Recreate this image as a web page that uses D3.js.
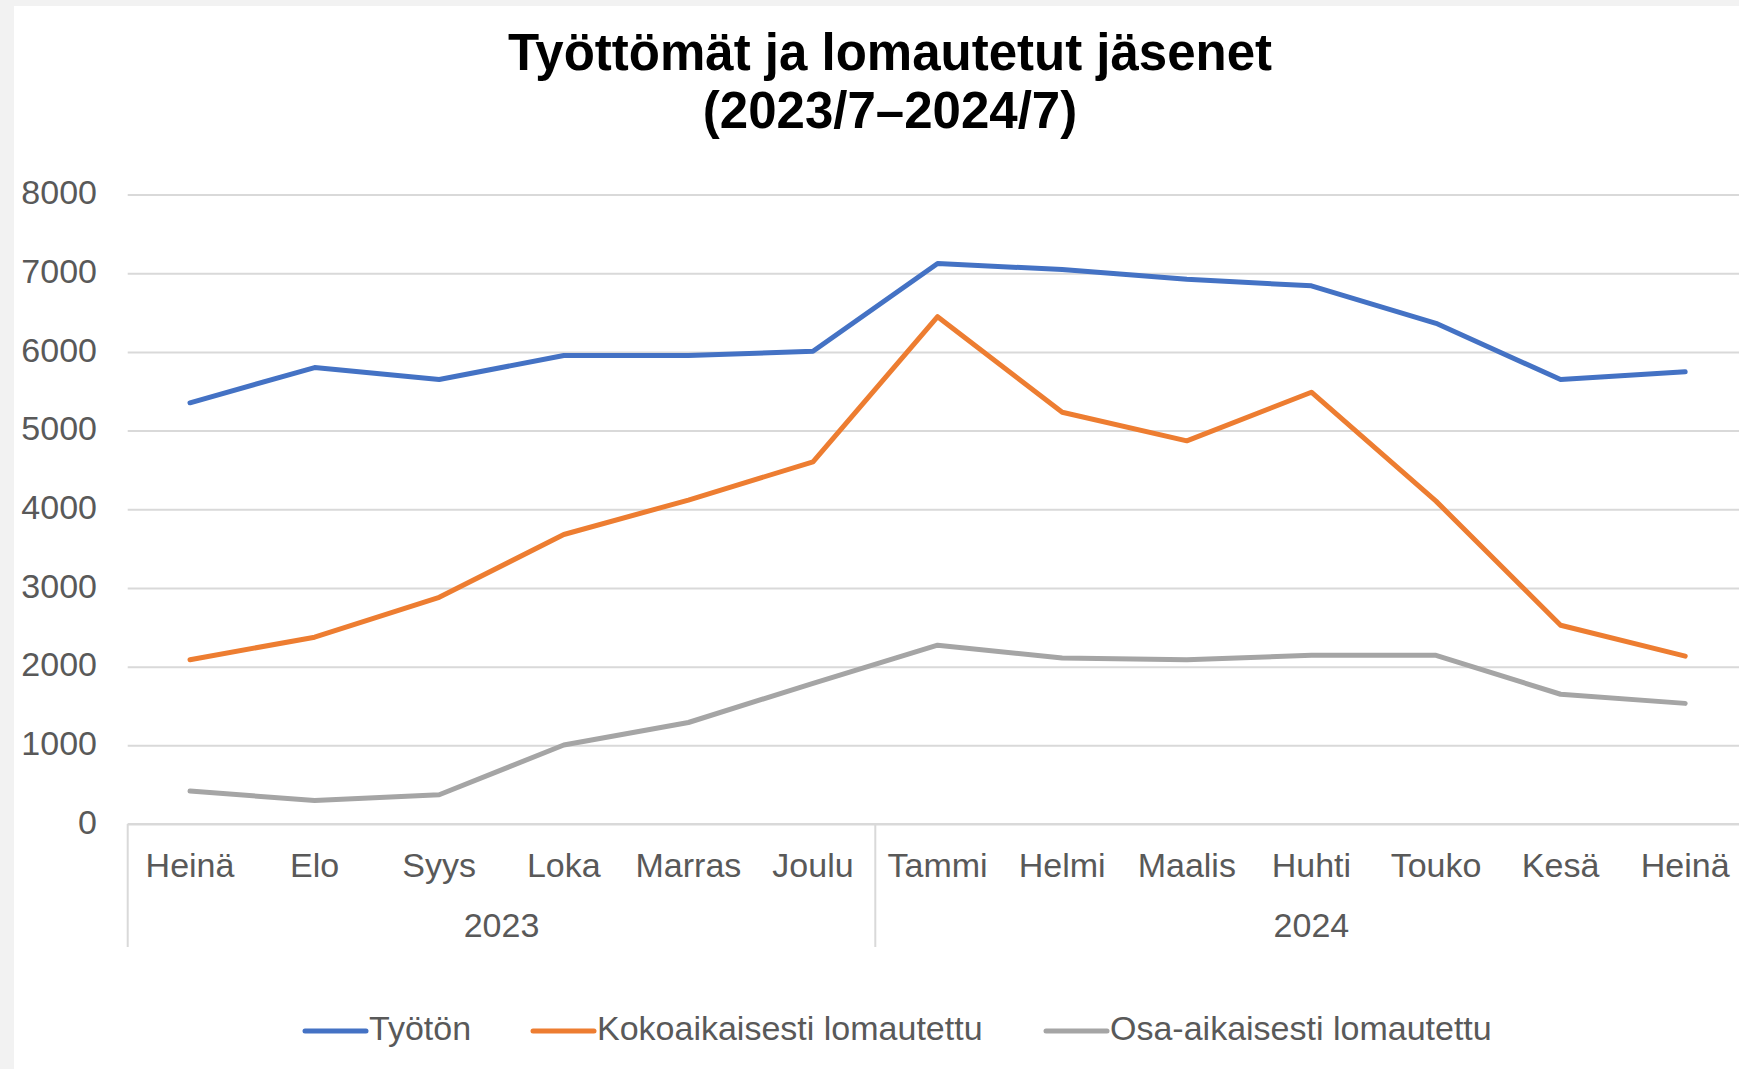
<!DOCTYPE html>
<html>
<head>
<meta charset="utf-8">
<script src="https://cdn.jsdelivr.net/npm/d3@7"></script>
<style>
  html, body { margin: 0; padding: 0; background: #f2f2f2; overflow: hidden; }
  svg { display: block; }
  text { font-family: "Liberation Sans", Arial, sans-serif; }
</style>
</head>
<body>
<svg id="chart" width="1739" height="1069"></svg>
<script>
// ---- Data ----
const months = ["Heinä","Elo","Syys","Loka","Marras","Joulu","Tammi","Helmi","Maalis","Huhti","Touko","Kesä","Heinä"];
const yearLabels = ["2023","2024"];
const yearMonthCounts = [6, 7];
const tyoton = [5353, 5801, 5649, 5953, 5953, 6008, 7124, 7046, 6922, 6839, 6363, 5649, 5746];
const kokoaikaisesti = [2088, 2374, 2881, 3679, 4117, 4602, 6447, 5233, 4869, 5487, 4103, 2526, 2134];
const osaaikaisesti = [418, 298, 372, 1004, 1290, 1788, 2272, 2111, 2088, 2143, 2143, 1649, 1533];
const seriesNames = ["Työtön", "Kokoaikaisesti lomautettu", "Osa-aikaisesti lomautettu"];
const seriesColors = ["#4472C4", "#ED7D31", "#A5A5A5"];
const titleLines = ["Työttömät ja lomautetut jäsenet", "(2023/7–2024/7)"];
const yMax = 8000;

// ---- Layout ----
const svg = d3.select("#chart");
const W = 1739, H = 1069;
const plot = { left: 127.7, right: 127.7 + 13 * 124.6, top: 194.5, bottom: 824 };
const textColor = "#595959";
const gridColor = "#d9d9d9";

svg.append("rect").attr("x", 14).attr("y", 6).attr("width", W - 14).attr("height", H - 6).attr("fill", "#ffffff");

const x = d3.scaleBand().domain(d3.range(months.length)).range([plot.left, plot.right]).paddingInner(0).paddingOuter(0);
const cx = i => x(i) + x.bandwidth() / 2;
const y = d3.scaleLinear().domain([0, yMax]).range([plot.bottom, plot.top]);

// Title
titleLines.forEach((t, i) => {
  svg.append("text")
    .attr("x", 890).attr("y", 70 + i * 58)
    .attr("text-anchor", "middle")
    .attr("font-size", 51).attr("font-weight", "bold").attr("fill", "#000")
    .text(t);
});

// Gridlines + y labels
const yAxis = d3.axisLeft(y).tickValues(y.ticks(8)).tickSize(-(plot.right - plot.left)).tickFormat(d3.format("d")).tickPadding(30);
const gy = svg.append("g").attr("transform", `translate(${plot.left},0)`).call(yAxis);
gy.select(".domain").remove();
gy.selectAll(".tick line").attr("stroke", gridColor).attr("stroke-width", 2);
gy.selectAll(".tick text")
  .attr("fill", textColor).attr("font-size", 34)
  .attr("font-family", "Liberation Sans, Arial, sans-serif")
  .attr("dy", null).attr("y", 9.3).attr("x", -30.7);

// X axis: month labels
const xAxis = d3.axisBottom(x).tickSize(0).tickPadding(0).tickFormat(i => months[i]);
const gx = svg.append("g").attr("transform", `translate(0,${plot.bottom})`).call(xAxis);
gx.select(".domain").remove();
gx.selectAll(".tick text")
  .attr("fill", textColor).attr("font-size", 34)
  .attr("font-family", "Liberation Sans, Arial, sans-serif")
  .attr("dy", null).attr("y", 52.7);

// Axis base line and group separators
svg.append("line").attr("x1", plot.left).attr("x2", plot.right)
  .attr("y1", y(0)).attr("y2", y(0)).attr("stroke", gridColor).attr("stroke-width", 2);
let startIdx = 0;
const boundaries = [0];
yearMonthCounts.forEach(c => { startIdx += c; boundaries.push(startIdx); });
boundaries.slice(0, -1).forEach(b => {
  svg.append("line").attr("x1", x(b)).attr("x2", x(b))
    .attr("y1", plot.bottom).attr("y2", 947).attr("stroke", gridColor).attr("stroke-width", 2);
});
yearLabels.forEach((lab, k) => {
  const a = x(boundaries[k]);
  const bIdx = boundaries[k + 1];
  const b = bIdx < months.length ? x(bIdx) : plot.right;
  svg.append("text").attr("x", (a + b) / 2).attr("y", 937)
    .attr("text-anchor", "middle").attr("font-size", 34).attr("fill", textColor).text(lab);
});

// Lines
const allSeries = [tyoton, kokoaikaisesti, osaaikaisesti];
const line = d3.line().x((d, i) => cx(i)).y(d => y(d));
allSeries.forEach((s, k) => {
  svg.append("path").datum(s)
    .attr("d", line)
    .attr("fill", "none")
    .attr("stroke", seriesColors[k])
    .attr("stroke-width", 5)
    .attr("stroke-linejoin", "round")
    .attr("stroke-linecap", "round");
});

// Legend
const legendX = [305, 533, 1046];
const legendY = 1031;
seriesNames.forEach((n, k) => {
  svg.append("line").attr("x1", legendX[k]).attr("x2", legendX[k] + 61)
    .attr("y1", legendY).attr("y2", legendY)
    .attr("stroke", seriesColors[k]).attr("stroke-width", 5).attr("stroke-linecap", "round");
  svg.append("text").attr("x", legendX[k] + 64).attr("y", 1040)
    .attr("font-size", 34).attr("fill", textColor).text(n);
});
</script>
</body>
</html>
